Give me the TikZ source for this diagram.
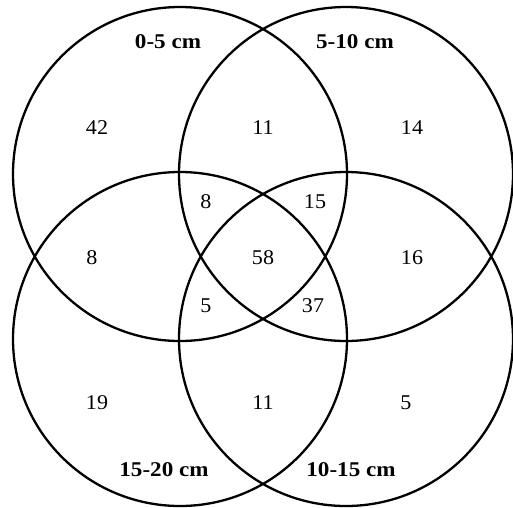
\documentclass[tikz,border=0pt]{standalone}
\usepackage{fontspec}
\setmainfont{Liberation Serif}
\begin{document}
\begin{tikzpicture}[x=1pt,y=-1pt,
  ring/.style={circle,draw=black,line width=2.3pt,minimum size=334pt,inner sep=0pt},
  num/.style={font=\fontsize{21}{21}\selectfont,inner sep=0pt,xscale=1.05},
  setlabel/.style={font=\fontsize{21}{21}\selectfont\bfseries,inner sep=0pt,xscale=1.1}]
\useasboundingbox (0,0) rectangle (513,507);
\node[ring] (tl) at (180,174) {};
\node[ring] (tr) at (346,174) {};
\node[ring] (bl) at (180,339) {};
\node[ring] (br) at (346,339) {};
\node[setlabel] (l1) at (168,42) {0-5 cm};
\node[setlabel] (l2) at (355,42) {5-10 cm};
\node[setlabel] (l3) at (164,470) {15-20 cm};
\node[setlabel] (l4) at (351,470) {10-15 cm};
\node[num] (n1) at (97,128) {42};
\node[num] (n2) at (263,128) {11};
\node[num] (n3) at (412,128) {14};
\node[num] (n4) at (206,202) {8};
\node[num] (n5) at (315,202) {15};
\node[num] (n6) at (92,258) {8};
\node[num] (n7) at (263,258) {58};
\node[num] (n8) at (412,258) {16};
\node[num] (n9) at (206,306) {5};
\node[num] (n10) at (313,306) {37};
\node[num] (n11) at (97,403) {19};
\node[num] (n12) at (263,403) {11};
\node[num] (n13) at (406,403) {5};
\end{tikzpicture}
\end{document}
